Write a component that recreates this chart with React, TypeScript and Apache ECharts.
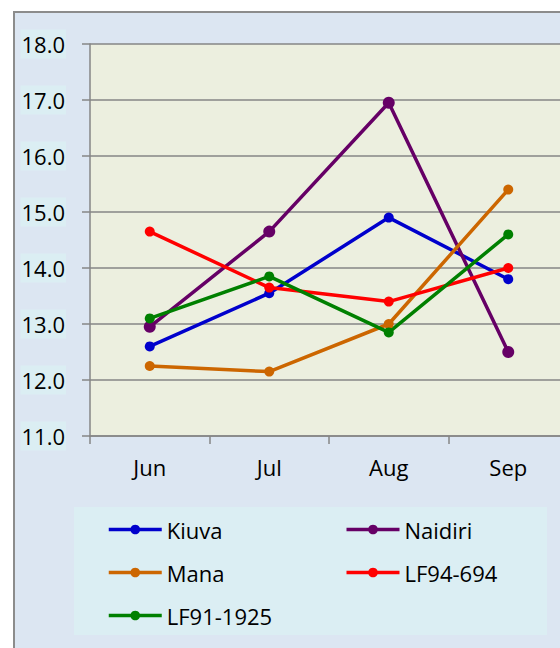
import React, { useEffect, useRef } from "react";
import * as echarts from "echarts";

const categories = ["Jun", "Jul", "Aug", "Sep"];
const seriesNames = ["Kiuva", "Naidiri", "Mana", "LF94-694", "LF91-1925"];
const kiuva = [12.6, 13.55, 14.9, 13.8];
const naidiri = [12.95, 14.65, 16.95, 12.5];
const mana = [12.25, 12.15, 13.0, 15.4];
const lf94 = [14.65, 13.65, 13.4, 14.0];
const lf91 = [13.1, 13.85, 12.85, 14.6];
const seriesValues = [kiuva, naidiri, mana, lf94, lf91];
const seriesColors = ["#0000cc", "#660066", "#cc6600", "#ff0000", "#008000"];
const symbolSizes = [10, 12, 10, 10, 10];

const FONT = "'Open Sans', sans-serif";

export default function App() {
  const ref = useRef<HTMLDivElement>(null);
  useEffect(() => {
    if (!ref.current) return;
    const chart = echarts.init(ref.current, null, { renderer: "svg" });
    chart.setOption({
      animation: false,
      backgroundColor: "#ffffff",
      graphic: [
        {
          type: "rect",
          z: -10,
          shape: { x: 14, y: 12, width: 580, height: 650 },
          style: { fill: "#dce6f2", stroke: "#8c8c8c", lineWidth: 2 },
        },
        {
          type: "rect",
          z: -9,
          shape: { x: 74, y: 507, width: 473, height: 128 },
          style: { fill: "#dbeef3" },
        },
      ],
      grid: {
        left: 90,
        top: 44,
        width: 478,
        height: 392,
        show: true,
        backgroundColor: "#ecefdf",
        borderWidth: 0,
      },
      xAxis: {
        type: "category",
        data: categories,
        boundaryGap: true,
        axisLine: { lineStyle: { color: "#868686", width: 1.5 } },
        axisTick: { show: true, length: 8, lineStyle: { color: "#868686", width: 1.5 } },
        axisLabel: { color: "#000", fontFamily: FONT, fontSize: 22, margin: 20 },
      },
      yAxis: {
        type: "value",
        min: 11,
        max: 18,
        interval: 1,
        axisLine: { show: true, lineStyle: { color: "#868686", width: 1.5 } },
        axisTick: { show: true, length: 8, lineStyle: { color: "#868686", width: 1.5 } },
        splitLine: { lineStyle: { color: "#868686", width: 1.5 } },
        axisLabel: {
          color: "#000",
          fontFamily: FONT,
          fontSize: 22,
          margin: 24,
          formatter: (v: number) => v.toFixed(1),
          backgroundColor: "#dbeef3",
          padding: [4, 1, 3, 1],
        },
      },
      legend: {
        left: 107,
        top: 514,
        width: 470,
        padding: 0,
        itemGap: 12,
        itemWidth: 53,
        itemHeight: 12,
        data: seriesNames,
        lineStyle: { width: 3.5 },
        textStyle: {
          color: "#000",
          fontFamily: FONT,
          fontSize: 22,
          width: 166,
          lineHeight: 31,
        },
      },
      series: seriesNames.map((name, i) => ({
        name,
        type: "line",
        data: seriesValues[i],
        symbol: "circle",
        symbolSize: symbolSizes[i],
        color: seriesColors[i],
        lineStyle: { width: 3.5, color: seriesColors[i] },
        itemStyle: { color: seriesColors[i] },
      })),
    });
    return () => chart.dispose();
  }, []);
  return (
    <div style={{ position: "fixed", left: 0, top: 0, width: 560, height: 648, overflow: "hidden" }}>
      <div ref={ref} style={{ width: 600, height: 648 }} />
    </div>
  );
}
